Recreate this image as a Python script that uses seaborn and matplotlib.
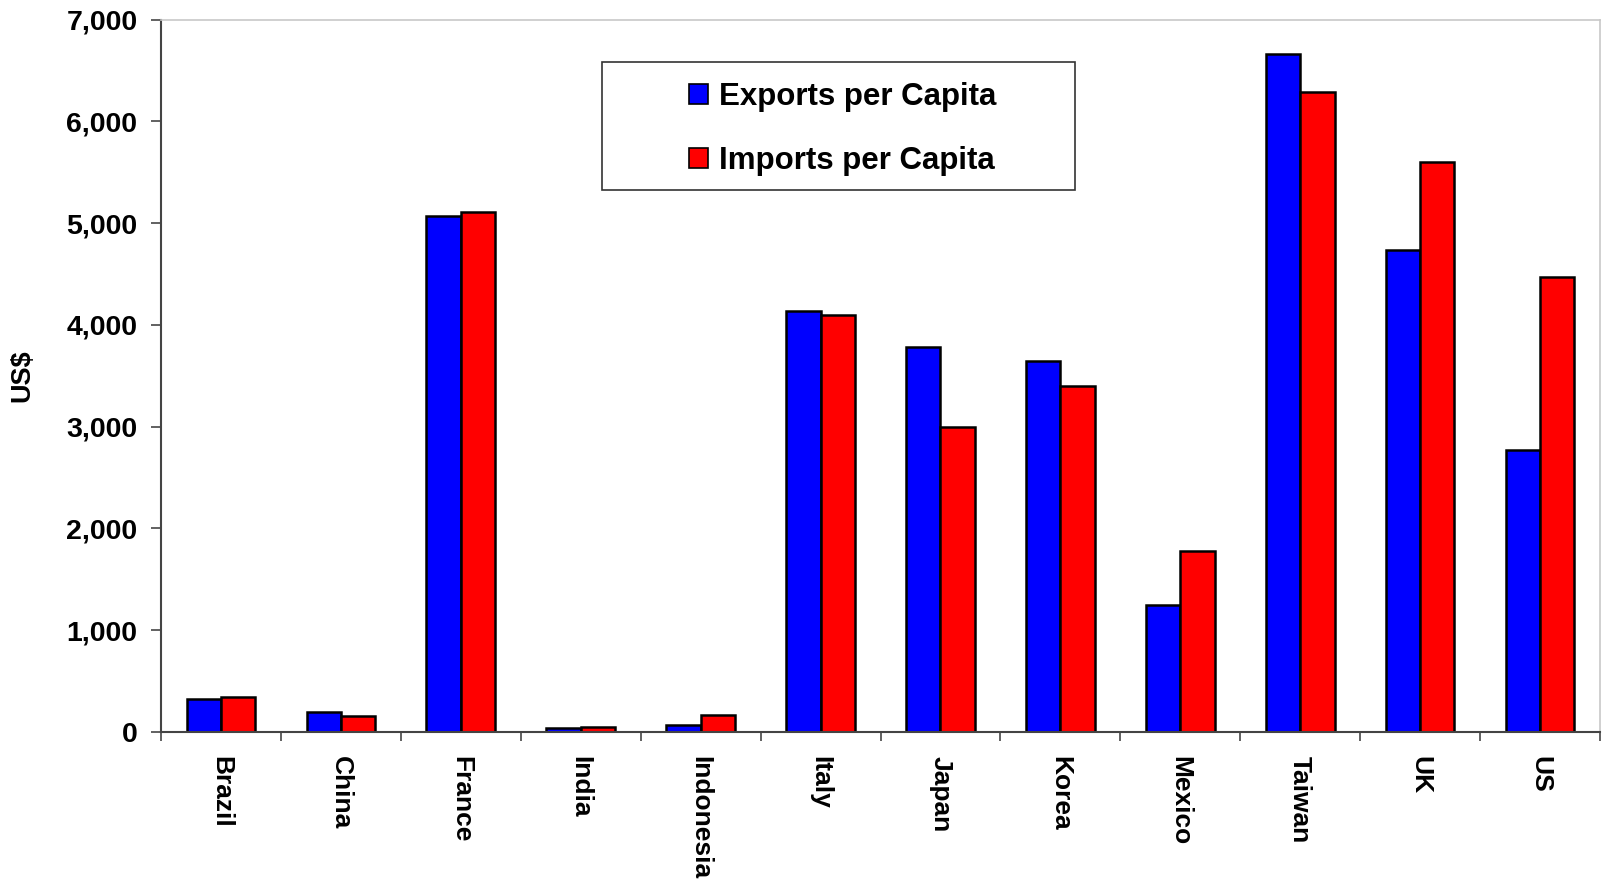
import matplotlib
matplotlib.use("Agg")
import matplotlib.pyplot as plt
import seaborn as sns
import pandas as pd
import numpy as np
from matplotlib.ticker import FixedLocator, FuncFormatter
from matplotlib.patches import Rectangle

countries = ["Brazil", "China", "France", "India", "Indonesia", "Italy",
             "Japan", "Korea", "Mexico", "Taiwan", "UK", "US"]
exports = [324, 193, 5073, 42, 65, 4140, 3778, 3647, 1250, 6663, 4735, 2774]
imports = [341, 160, 5113, 50, 165, 4100, 2996, 3397, 1781, 6290, 5600, 4473]
series_names = ["Exports per Capita", "Imports per Capita"]
yticks = [0, 1000, 2000, 3000, 4000, 5000, 6000, 7000]

df = pd.DataFrame({
    "Country": countries * 2,
    "Value": exports + imports,
    "Series": [series_names[0]] * len(countries) + [series_names[1]] * len(countries),
})

sns.set_theme(style="white")
plt.rcParams["font.family"] = ["Liberation Sans", "DejaVu Sans"]
plt.rcParams["font.weight"] = "bold"
plt.rcParams["text.color"] = "black"
plt.rcParams["axes.labelcolor"] = "black"
plt.rcParams["xtick.color"] = "black"
plt.rcParams["ytick.color"] = "black"

fig = plt.figure(figsize=(16.02, 8.82), dpi=100)
ax = fig.add_axes([161 / 1602, 1 - 732 / 882, (1600 - 161) / 1602, (732 - 19.5) / 882])

sns.barplot(data=df, x="Country", y="Value", hue="Series", order=countries,
            hue_order=series_names,
            palette={series_names[0]: "#0000ff", series_names[1]: "#ff0000"},
            width=0.572, edgecolor="black", linewidth=1.8, saturation=1,
            errorbar=None, ax=ax)

ax.set_xlim(-0.5, len(countries) - 0.5)
ax.set_ylim(0, 7000)
ax.set_yticks(yticks)
ax.yaxis.set_major_formatter(FuncFormatter(lambda v, p: f"{int(v):,}"))
ax.tick_params(axis="y", which="major", direction="out", length=7, width=1.3,
               color="#555555", labelcolor="black", pad=10, labelsize=20.5, left=True)
ax.tick_params(axis="x", which="major", length=0, pad=17, labelsize=19,
               labelcolor="black")
ax.xaxis.set_minor_locator(FixedLocator(np.arange(-0.5, len(countries), 1.0)))
ax.tick_params(axis="x", which="minor", direction="out", length=6.5, width=1.3,
               color="#555555", bottom=True)
for lab in ax.get_xticklabels():
    lab.set_rotation(-90)
    lab.set_fontweight("bold")
    lab.set_va("top")
    lab.set_ha("center")
for lab in ax.get_yticklabels():
    lab.set_fontweight("bold")

ax.set_xlabel("")
ax.set_ylabel("US$", fontsize=19.5, fontweight="bold", color="black")
ax.yaxis.set_label_coords((35 - 161) / 1439, 0.5)

for s in ["left", "bottom"]:
    ax.spines[s].set_color("#444444")
    ax.spines[s].set_linewidth(1.5)
for s in ["top", "right"]:
    ax.spines[s].set_color("#c8c8c8")
    ax.spines[s].set_linewidth(1.2)

leg = ax.legend(loc="center", bbox_to_anchor=(843 / 1602, 1 - 129 / 882),
                bbox_transform=fig.transFigure, frameon=False,
                prop={"size": 22.5, "weight": "bold"},
                handlelength=0.6, handleheight=0.6, handletextpad=0.35,
                labelspacing=1.07, title=None)
for h in leg.legend_handles:
    h.set_edgecolor("black")
    h.set_linewidth(1.2)
for t in leg.get_texts():
    t.set_color("black")

fig.patches.append(Rectangle((601.7 / 1602, 1 - 190 / 882), (1075 - 601.7) / 1602,
                             (190 - 61.7) / 882, transform=fig.transFigure,
                             fill=False, edgecolor="#333333", linewidth=1.2))

fig.savefig("out.png", dpi=100)
